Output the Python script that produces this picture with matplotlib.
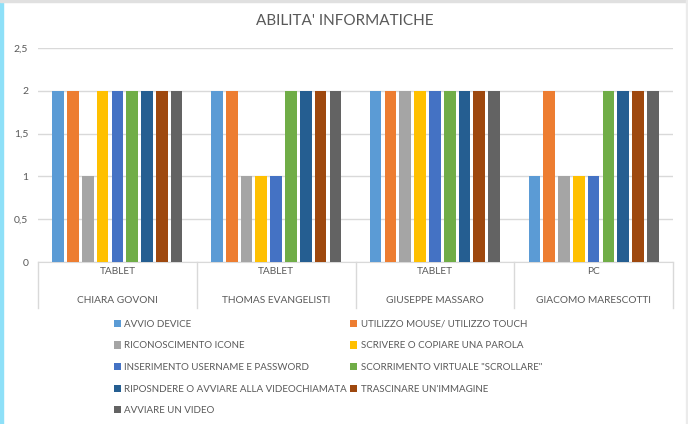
import matplotlib.pyplot as plt
from matplotlib.patches import Rectangle

devices = ["TABLET", "TABLET", "TABLET", "PC"]
students = ["CHIARA GOVONI", "THOMAS EVANGELISTI", "GIUSEPPE MASSARO", "GIACOMO MARESCOTTI"]
skills = [
    "AVVIO DEVICE",
    "UTILIZZO MOUSE/ UTILIZZO TOUCH",
    "RICONOSCIMENTO ICONE",
    "SCRIVERE O COPIARE UNA PAROLA",
    "INSERIMENTO USERNAME E PASSWORD",
    "SCORRIMENTO VIRTUALE \"SCROLLARE\"",
    "RIPOSNDERE O AVVIARE ALLA VIDEOCHIAMATA",
    "TRASCINARE UN'IMMAGINE",
    "AVVIARE UN VIDEO",
]
# one list per skill, one value per student
scores = [
    [2, 2, 2, 1],
    [2, 2, 2, 2],
    [1, 1, 2, 1],
    [2, 1, 2, 1],
    [2, 1, 2, 1],
    [2, 2, 2, 2],
    [2, 2, 2, 2],
    [2, 2, 2, 2],
    [2, 2, 2, 2],
]
colors = ["#5B9BD5", "#ED7D31", "#A5A5A5", "#FFC000", "#4472C4",
          "#70AD47", "#255E91", "#9E480E", "#636363"]

TEXT = "#595959"
GRID = "#D9D9D9"
plt.rcParams["font.family"] = ["Lato", "DejaVu Sans"]

fig = plt.figure(figsize=(6.88, 4.24), dpi=100)
ax = fig.add_axes([38 / 688, 1 - 262 / 424, (673 - 38) / 688, (262 - 48) / 424])

pitch = 0.84 / len(skills)
width = pitch * 0.79
bars = []
for i, (skill, vals, col) in enumerate(zip(skills, scores, colors)):
    xs = [g + 0.5 + (i - (len(skills) - 1) / 2) * pitch for g in range(len(students))]
    bars.append(ax.bar(xs, vals, width, color=col, label=skill, zorder=3))

ax.set_xlim(0, len(students))
ax.set_ylim(0, 2.5)
ax.set_yticks([0, 0.5, 1, 1.5, 2, 2.5])
ax.set_yticklabels(["0", "0,5", "1", "1,5", "2", "2,5"])
ax.tick_params(axis="y", length=0, pad=7, labelsize=7.5, labelcolor=TEXT)
ax.set_xticks([])
ax.grid(axis="y", color=GRID, linewidth=1, zorder=0)
for s in ["top", "right", "left"]:
    ax.spines[s].set_visible(False)
ax.spines["bottom"].set_color(GRID)

# two-row category axis
for g, (dev, name) in enumerate(zip(devices, students)):
    ax.text(g + 0.5, -0.025, dev, transform=ax.get_xaxis_transform(), ha="center", va="top",
            fontsize=7.3, color=TEXT)
    ax.text(g + 0.5, -0.16, name, transform=ax.get_xaxis_transform(), ha="center", va="top",
            fontsize=7.3, color=TEXT)
for b in range(len(students) + 1):
    ax.plot([b, b], [0, -0.215], transform=ax.get_xaxis_transform(), color=GRID,
            linewidth=1, clip_on=False)

fig.text(345 / 688, 1 - 21 / 424, "ABILITA' INFORMATICHE", ha="center", va="center",
         fontsize=11, color=TEXT)

order = [0, 2, 4, 6, 8, 1, 3, 5, 7]
leg = fig.legend([bars[i] for i in order], [skills[i] for i in order], ncol=2,
                 loc="upper left", bbox_to_anchor=(105 / 688, 1 - 311 / 424),
                 frameon=False, fontsize=7, handlelength=0.75, handleheight=0.75,
                 handletextpad=0.35, columnspacing=0.3, labelspacing=1.3, labelcolor=TEXT)

# frame decorations of the original screenshot
fig.patches.append(Rectangle((0, 0), 3 / 688, 1, transform=fig.transFigure, color="#8EE0F8"))
fig.patches.append(Rectangle((0, 1 - 2 / 424), 1, 2 / 424, transform=fig.transFigure, color="#E0E0E0"))
fig.patches.append(Rectangle((1 - 2 / 688, 0), 2 / 688, 1, transform=fig.transFigure, color="#EBEBEB"))

fig.savefig("out.png", dpi=100)
